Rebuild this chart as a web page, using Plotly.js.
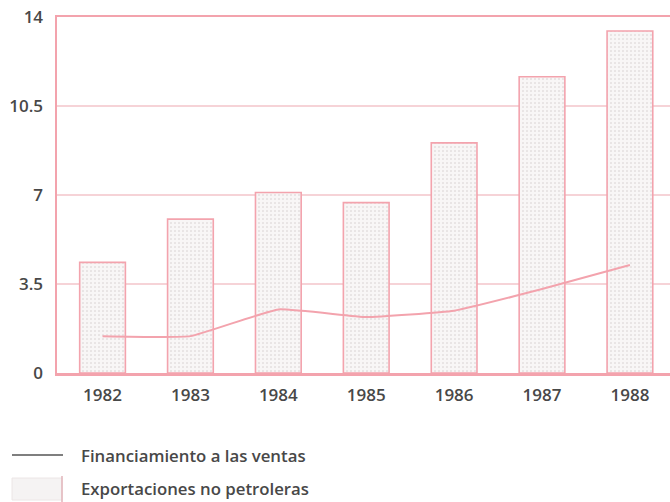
<!DOCTYPE html>
<html>
<head>
<meta charset="utf-8">
<script src="https://cdn.plot.ly/plotly-3.0.1.min.js"></script>
<style>html,body{margin:0;padding:0;background:#fff;}#chart{width:670px;height:502px;}</style>
</head>
<body>
<div id="chart"></div>
<script>
var years = ['1982', '1983', '1984', '1985', '1986', '1987', '1988'];
var exportaciones = [4.35, 6.05, 7.1, 6.7, 9.05, 11.65, 13.45];
var financiamiento = [1.45, 1.45, 2.5, 2.2, 2.45, 3.3, 4.25];
var yTicks = [0, 3.5, 7, 10.5, 14];
var yTickLabels = ['0', '3.5', '7', '10.5', '14'];
var legendLabels = ['Financiamiento a las ventas', 'Exportaciones no petroleras'];

var pink = '#f3a3ad';
var textColor = '#484848';
var tickFont = {family: 'Open Sans, sans-serif', size: 17, color: textColor, weight: 600};
var legendFont = {family: 'Open Sans, sans-serif', size: 16.8, color: textColor, weight: 600};

var traces = [
  {
    type: 'bar',
    x: years,
    y: exportaciones,
    name: legendLabels[1],
    width: 0.52,
    marker: {
      color: '#f7f5f5',
      line: {color: pink, width: 1.6},
      pattern: {shape: '.', size: 4, solidity: 0.12, fgcolor: '#d4cdcd', bgcolor: '#f8f6f6', fillmode: 'replace'}
    },
    showlegend: false,
    hoverinfo: 'x+y'
  },
  {
    type: 'scatter',
    mode: 'lines',
    x: years,
    y: financiamiento,
    name: legendLabels[0],
    line: {color: pink, width: 2, shape: 'spline', smoothing: 0.35},
    showlegend: false
  }
];

function px2x(p) { return (p - 57) / 613; }
function px2y(p) { return (373 - p) / 356; }

var layout = {
  width: 670,
  height: 502,
  margin: {l: 57, r: 0, t: 17, b: 129},
  paper_bgcolor: '#ffffff',
  plot_bgcolor: '#ffffff',
  showlegend: false,
  xaxis: {
    type: 'category',
    range: [-0.518, 6.456],
    showgrid: false,
    showline: true,
    linecolor: pink,
    linewidth: 2.5,
    mirror: true,
    ticks: '',
    ticklabelstandoff: 5,
    tickfont: tickFont,
    zeroline: false,
    fixedrange: true
  },
  yaxis: {
    range: [0, 14],
    tickvals: yTicks,
    ticktext: yTickLabels,
    showgrid: true,
    gridcolor: '#f6d3d7',
    gridwidth: 1.5,
    showline: true,
    linecolor: pink,
    linewidth: 2.5,
    ticks: '',
    ticklabelstandoff: 8,
    tickfont: tickFont,
    zeroline: false,
    fixedrange: true
  },
  shapes: [
    {type: 'line', xref: 'paper', yref: 'paper', x0: px2x(12), x1: px2x(63), y0: px2y(455), y1: px2y(455),
     line: {color: '#555555', width: 1.5}},
    {type: 'rect', xref: 'paper', yref: 'paper', x0: px2x(12), x1: px2x(62), y0: px2y(500), y1: px2y(478),
     fillcolor: '#f5f3f3', line: {color: '#ece6e6', width: 1}},
    {type: 'line', xref: 'paper', yref: 'paper', x0: px2x(62), x1: px2x(62), y0: px2y(502), y1: px2y(476),
     line: {color: '#e2b4ba', width: 1.5}}
  ],
  annotations: [
    {xref: 'paper', yref: 'paper', x: px2x(79), y: px2y(455), xanchor: 'left', yanchor: 'middle',
     text: legendLabels[0], showarrow: false, font: legendFont},
    {xref: 'paper', yref: 'paper', x: px2x(79), y: px2y(488), xanchor: 'left', yanchor: 'middle',
     text: legendLabels[1], showarrow: false, font: legendFont}
  ]
};

Plotly.newPlot('chart', traces, layout, {displayModeBar: false, staticPlot: true});
</script>
</body>
</html>
